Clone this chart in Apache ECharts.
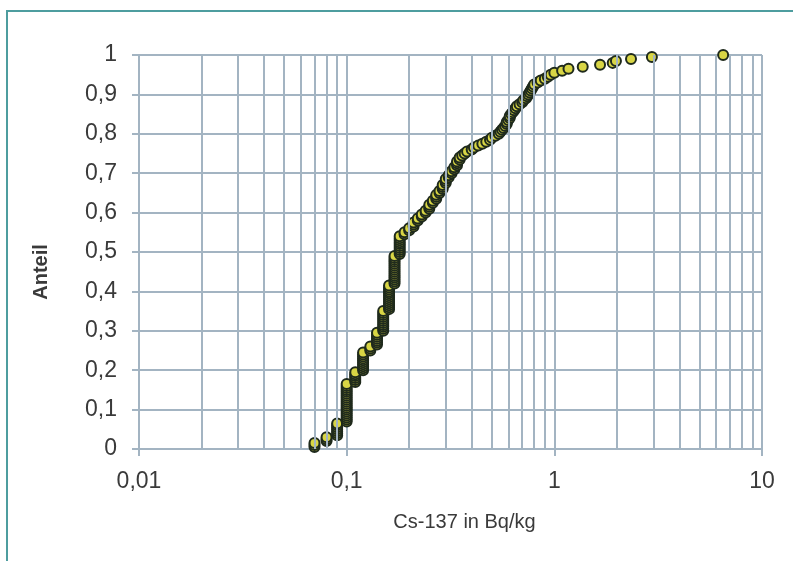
<!DOCTYPE html>
<html>
<head>
<meta charset="utf-8">
<script src="https://cdn.jsdelivr.net/npm/echarts@6/dist/echarts.min.js"></script>
<style>
  html, body { margin: 0; padding: 0; background: #fff; }
  #chart { width: 793px; height: 561px; }
</style>
</head>
<body>
<div id="chart"></div>
<script>
// Messwerte Cs-137 (Bq/kg), sortiert
var messwerte = [
  0.07, 0.07, 0.07,
  0.08, 0.08, 0.08,
  0.09, 0.09, 0.09, 0.09, 0.09, 0.09, 0.09,
  0.1, 0.1, 0.1, 0.1, 0.1, 0.1, 0.1, 0.1, 0.1, 0.1,
  0.1, 0.1, 0.1, 0.1, 0.1, 0.1, 0.1, 0.1, 0.1, 0.1,
  0.11, 0.11, 0.11, 0.11, 0.11, 0.11,
  0.12, 0.12, 0.12, 0.12, 0.12, 0.12, 0.12, 0.12, 0.12, 0.12,
  0.13, 0.13, 0.13,
  0.14, 0.14, 0.14, 0.14, 0.14, 0.14, 0.14,
  0.15, 0.15, 0.15, 0.15, 0.15, 0.15, 0.15, 0.15, 0.15, 0.15, 0.15,
  0.16, 0.16, 0.16, 0.16, 0.16, 0.16, 0.16, 0.16, 0.16, 0.16, 0.16, 0.16, 0.16,
  0.17, 0.17, 0.17, 0.17, 0.17, 0.17, 0.17, 0.17, 0.17, 0.17, 0.17, 0.17, 0.17, 0.17, 0.17,
  0.18, 0.18, 0.18, 0.18, 0.18, 0.18, 0.18, 0.18, 0.18, 0.18,
  0.19, 0.19, 0.2, 0.2, 0.21, 0.21, 0.21, 0.22, 0.22, 0.23,
  0.23, 0.24, 0.24, 0.25, 0.25, 0.25, 0.26, 0.26, 0.27, 0.27,
  0.27, 0.28, 0.28, 0.29, 0.29, 0.29, 0.3, 0.3, 0.3, 0.31,
  0.31, 0.32, 0.32, 0.33, 0.33, 0.34, 0.34, 0.34, 0.35, 0.35,
  0.36, 0.37, 0.38, 0.4, 0.41, 0.43, 0.45, 0.47, 0.49, 0.5,
  0.52, 0.54, 0.55, 0.56, 0.57, 0.58, 0.59, 0.59, 0.6, 0.61,
  0.61, 0.62, 0.63, 0.64, 0.65, 0.66, 0.68, 0.7, 0.71, 0.73,
  0.74, 0.75, 0.76, 0.77, 0.78, 0.79, 0.8, 0.83, 0.86, 0.9,
  0.93, 0.96, 1.0, 1.09, 1.17, 1.37, 1.66, 1.91, 1.98, 2.34,
  2.95, 6.5
];

// Hilfslinien zwischen den Dekaden
var zwischenlinien = [
  0.02, 0.03, 0.04, 0.05, 0.06, 0.07, 0.08, 0.09,
  0.2, 0.3, 0.4, 0.5, 0.6, 0.7, 0.8, 0.9,
  2, 3, 4, 5, 6, 7, 8, 9
];

var gitterFarbe = '#a3b4c2';
var textFarbe = '#3a3a3a';
var schrift = '"Liberation Sans", Arial, sans-serif';

function komma(v) {
  return String(Number(Number(v).toPrecision(6))).replace('.', ',');
}

(function(){

var myChart = echarts.init(document.getElementById('chart'));

// Anteil = Rang / Anzahl (empirische Verteilung)
var punkte = messwerte.map(function (v, i) {
  return [v, (i + 1) / messwerte.length];
});

option = {
    backgroundColor: '#fff',
    animation: false,
    graphic: [{
        type: 'polyline',
        shape: { points: [[7, 561], [7, 11], [793, 11]] },
        style: { stroke: '#4e9d9f', lineWidth: 2, fill: null },
        silent: true
    }],
    grid: {
        left: 139,
        right: 31,
        top: 55,
        bottom: 112
    },
    xAxis: {
        type: 'log',
        logBase: 10,
        min: 0.01,
        max: 10,
        name: 'Cs-137 in Bq/kg',
        nameLocation: 'middle',
        nameGap: 63,
        nameTextStyle: {
            fontFamily: schrift, fontSize: 20, color: textFarbe,
            padding: [0, 0, 0, 28]
        },
        axisLine: { show: true, lineStyle: { color: gitterFarbe, width: 2 } },
        axisTick: { show: true, length: 7, lineStyle: { color: gitterFarbe, width: 2 } },
        axisLabel: {
            fontFamily: schrift, fontSize: 23, color: textFarbe, margin: 21,
            formatter: komma
        },
        splitLine: { show: true, lineStyle: { color: gitterFarbe, width: 2 } }
    },
    yAxis: {
        type: 'value',
        min: 0,
        max: 1,
        interval: 0.1,
        name: 'Anteil',
        nameLocation: 'middle',
        nameGap: 88,
        nameTextStyle: {
            fontFamily: schrift, fontSize: 20, fontWeight: 'bold', color: textFarbe,
            padding: [0, 40, 0, 0]
        },
        axisLine: { show: true, lineStyle: { color: gitterFarbe, width: 2 } },
        axisTick: { show: true, length: 7, lineStyle: { color: gitterFarbe, width: 2 } },
        axisLabel: {
            fontFamily: schrift, fontSize: 23, color: textFarbe, margin: 22,
            formatter: komma
        },
        splitLine: { show: true, lineStyle: { color: gitterFarbe, width: 2 } }
    },
    series: [
        {
            name: 'Gitter',
            type: 'scatter',
            data: [],
            z: 1,
            silent: true,
            markLine: {
                silent: true,
                symbol: ['none', 'none'],
                label: { show: false },
                lineStyle: { color: gitterFarbe, width: 2, type: 'solid' },
                data: zwischenlinien.map(function (x) { return { xAxis: x }; })
            }
        },
        {
            name: 'Cs-137',
            type: 'scatter',
            z: 3,
            symbol: 'circle',
            symbolSize: 10,
            itemStyle: {
                color: '#d8d545',
                borderColor: '#1f2a1c',
                borderWidth: 2,
                opacity: 1
            },
            data: punkte
        }
    ]
};

myChart.setOption(option);
})();
</script>
</body>
</html>
